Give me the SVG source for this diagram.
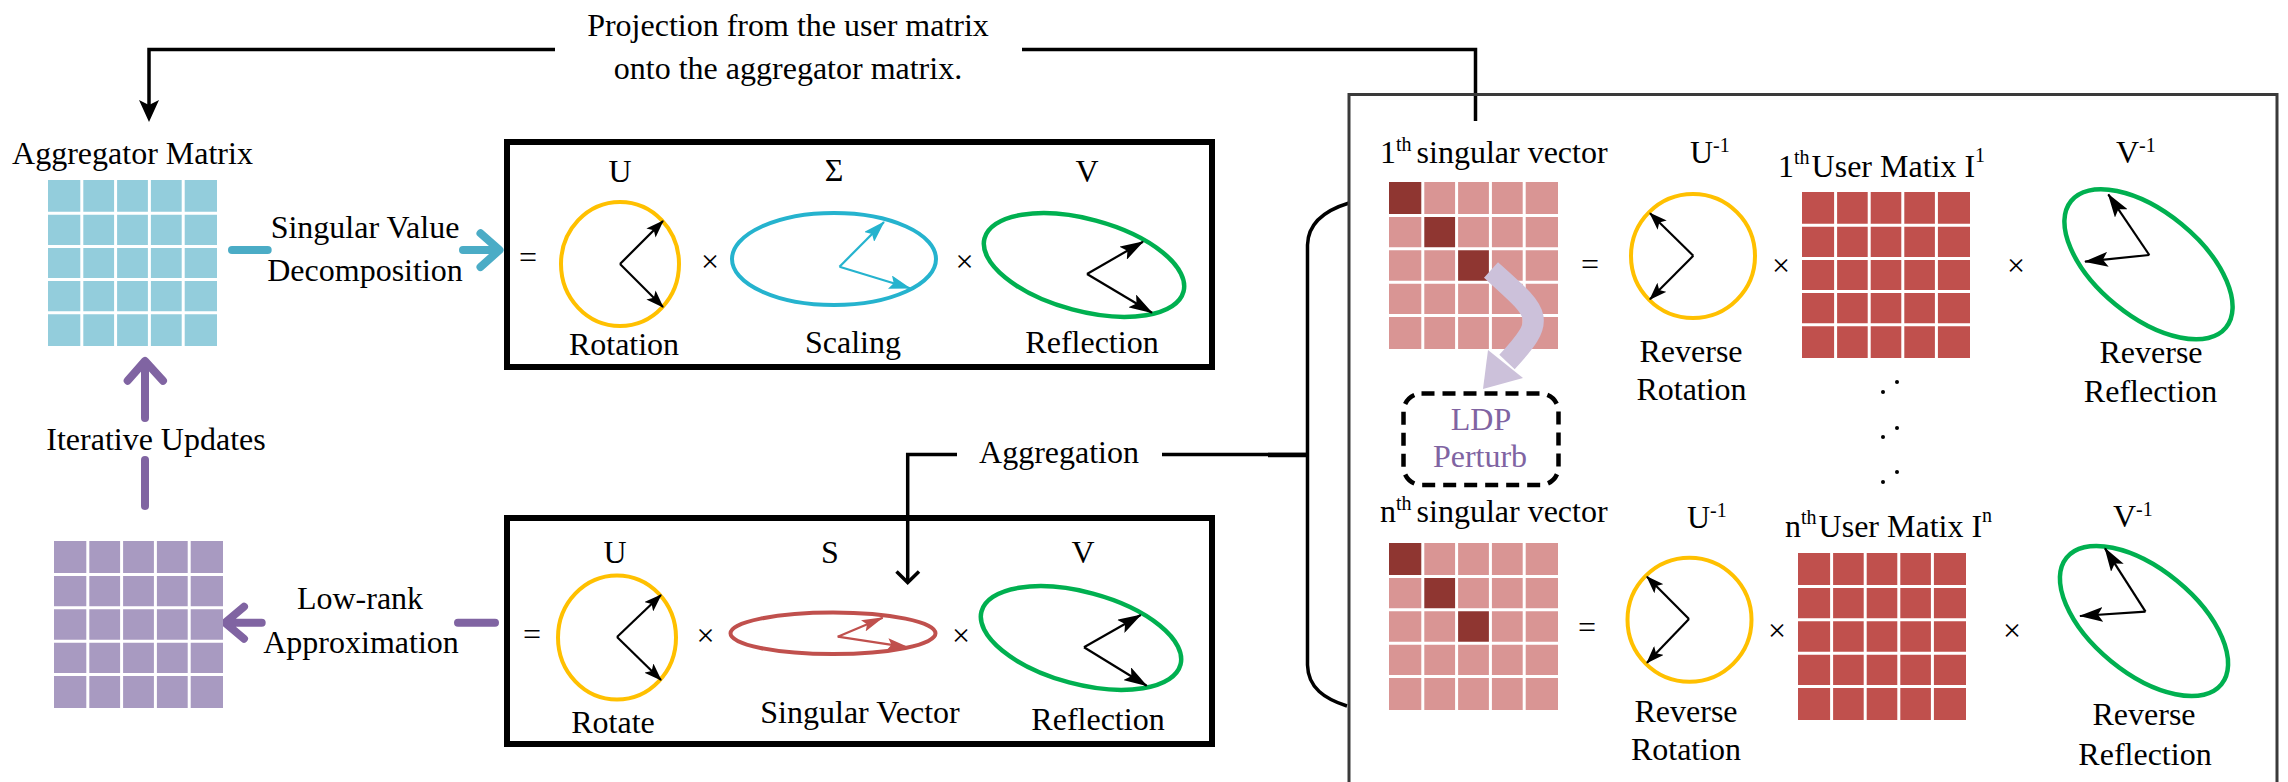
<svg xmlns="http://www.w3.org/2000/svg" width="2288" height="782" viewBox="0 0 2288 782">
<defs>
<style>
.t{font-family:"Liberation Serif","Times New Roman",serif;font-size:32px;fill:#000}
.m{text-anchor:middle}
.s{font-size:20px}
.grid{stroke:#fff;stroke-width:3}
.ar{stroke:#000;stroke-width:2.2;fill:none}
.con{stroke:#000;stroke-width:3.5;fill:none}
.box{fill:none;stroke:#000;stroke-width:6}
</style>
<marker id="hs" markerUnits="userSpaceOnUse" viewBox="0 0 18 13" refX="17" refY="6.5" markerWidth="18" markerHeight="13" orient="auto"><path d="M0,0 L18,6.5 L0,13 L4,6.5 z" fill="#000"/></marker>
<marker id="hl" markerUnits="userSpaceOnUse" viewBox="0 0 24 15" refX="23" refY="7.5" markerWidth="24" markerHeight="15" orient="auto"><path d="M0,0 L24,7.5 L0,15 L5,7.5 z" fill="#000"/></marker>
<marker id="hb" markerUnits="userSpaceOnUse" viewBox="0 0 22 14" refX="21" refY="7" markerWidth="22" markerHeight="14" orient="auto"><path d="M0,0 L22,7 L0,14 L4,7 z" fill="#25B3CE"/></marker>
<marker id="hr" markerUnits="userSpaceOnUse" viewBox="0 0 22 12" refX="21" refY="6" markerWidth="22" markerHeight="12" orient="auto"><path d="M0,0 L22,6 L0,12 L4,6 z" fill="#C0504D"/></marker>
</defs>
<rect width="2288" height="782" fill="#fff"/>

<g id="connectors">
  <path class="con" d="M555 49.5 H149 V106"/>
  <polygon points="149,122 139,100 149,105 159,100" fill="#000"/>
  <path class="con" d="M1022 49.5 H1475.5 V121"/>
  <path class="con" d="M957 454.5 H907.7 V581"/>
  <polyline class="con" points="896.5,571.5 907.7,582.5 919,571.5"/>
  <path class="con" d="M1162 454.5 H1307"/>
  <path class="con" d="M1349 203 C1326 210 1308 222 1307.5 245 V665 C1308 688 1325 699 1347 706"/>
  <path d="M1268 455 H1307" stroke="#000" stroke-width="4.5"/>
  <path d="M232 250 H267.7" stroke="#4BACC6" stroke-width="8" stroke-linecap="round"/>
  <path d="M463 250 H495 M480.5 233.3 L499.5 250 L480.5 267" stroke="#4BACC6" stroke-width="8" stroke-linecap="round" stroke-linejoin="round" fill="none"/>
  <path d="M145 418 V362 M127.7 380.7 L145 361 L163 380.7" stroke="#8064A2" stroke-width="8" stroke-linecap="round" stroke-linejoin="round" fill="none"/>
  <path d="M145 460 V506" stroke="#8064A2" stroke-width="8" stroke-linecap="round"/>
  <path d="M261.7 622.7 H226 M244 606.7 L225 622.7 L244 638.7" stroke="#8064A2" stroke-width="8" stroke-linecap="round" stroke-linejoin="round" fill="none"/>
  <path d="M458 622.7 H495" stroke="#8064A2" stroke-width="8" stroke-linecap="round"/>
</g>

<g id="projection-label">
  <text class="t m" x="788" y="36">Projection from the user matrix</text>
  <text class="t m" x="788" y="79">onto the aggregator matrix.</text>
</g>
<g id="aggregation-label"><text class="t m" x="1059" y="463">Aggregation</text></g>

<g id="aggregator-matrix">
  <text class="t m" x="132.5" y="164">Aggregator Matrix</text>
  <rect x="48" y="180" width="169" height="166" fill="#93CDDC"/>
  <path class="grid" d="M81.8 180V346M115.6 180V346M149.4 180V346M183.2 180V346M48 213.2H217M48 246.4H217M48 279.6H217M48 312.8H217"/>
</g>
<g id="svd-label">
  <text class="t m" x="365" y="238">Singular Value</text>
  <text class="t m" x="365" y="281">Decomposition</text>
</g>
<g id="iterative-label"><text class="t m" x="156" y="450">Iterative Updates</text></g>

<g id="lowrank-matrix">
  <rect x="54" y="541" width="169" height="167" fill="#A89AC1"/>
  <path class="grid" d="M87.8 541V708M121.6 541V708M155.4 541V708M189.2 541V708M54 574.4H223M54 607.8H223M54 641.2H223M54 674.6H223"/>
</g>
<g id="lowrank-label">
  <text class="t m" x="360" y="609">Low-rank</text>
  <text class="t m" x="361" y="653">Approximation</text>
</g>

<g id="svd-box">
  <rect class="box" x="507" y="142" width="705" height="225"/>
  <text class="t m" x="620" y="182">U</text>
  <text class="t m" x="834" y="181">Σ</text>
  <text class="t m" x="1087" y="182">V</text>
  <text class="t m" x="528" y="268">=</text>
  <text class="t m" x="710" y="272">×</text>
  <text class="t m" x="964.5" y="272">×</text>
  <ellipse cx="620" cy="264" rx="59" ry="62" fill="none" stroke="#FFC000" stroke-width="4"/>
  <path class="ar" d="M620 264 L663 307" marker-end="url(#hs)"/>
  <path class="ar" d="M620 264 L663 221" marker-end="url(#hs)"/>
  <ellipse cx="834" cy="259" rx="102" ry="46" fill="none" stroke="#25B3CE" stroke-width="4"/>
  <path d="M839.5 266.7 L884 222" stroke="#25B3CE" stroke-width="2.2" marker-end="url(#hb)"/>
  <path d="M839.5 266.7 L910 288.3" stroke="#25B3CE" stroke-width="2.2" marker-end="url(#hb)"/>
  <ellipse cx="0" cy="0" rx="103" ry="46" transform="translate(1084 265) rotate(15)" fill="none" stroke="#00B050" stroke-width="4.5"/>
  <path class="ar" d="M1087 274 L1143 241.7" marker-end="url(#hl)"/>
  <path class="ar" d="M1087 274 L1152 312.7" marker-end="url(#hl)"/>
  <text class="t m" x="624" y="355">Rotation</text>
  <text class="t m" x="853" y="353">Scaling</text>
  <text class="t m" x="1092" y="353">Reflection</text>
</g>

<g id="lowrank-box">
  <rect class="box" x="507" y="518" width="705" height="226"/>
  <text class="t m" x="615" y="563">U</text>
  <text class="t m" x="830" y="563">S</text>
  <text class="t m" x="1083" y="563">V</text>
  <text class="t m" x="532" y="645">=</text>
  <text class="t m" x="705.5" y="646">×</text>
  <text class="t m" x="961" y="646">×</text>
  <ellipse cx="617" cy="637.5" rx="59" ry="62" fill="none" stroke="#FFC000" stroke-width="4"/>
  <path class="ar" d="M617 637 L661 595" marker-end="url(#hs)"/>
  <path class="ar" d="M617 637 L661 680" marker-end="url(#hs)"/>
  <ellipse cx="833" cy="633.3" rx="102.5" ry="20.7" fill="none" stroke="#C0504D" stroke-width="4"/>
  <path d="M837.7 636.7 L882.7 617.7" stroke="#C0504D" stroke-width="2.2" marker-end="url(#hr)"/>
  <path d="M837.7 636.7 L908.3 647.3" stroke="#C0504D" stroke-width="2.2" marker-end="url(#hr)"/>
  <ellipse cx="0" cy="0" rx="103" ry="46" transform="translate(1081 638) rotate(15)" fill="none" stroke="#00B050" stroke-width="4.5"/>
  <path class="ar" d="M1084 647.3 L1140.7 615" marker-end="url(#hl)"/>
  <path class="ar" d="M1084 647.3 L1146.7 685.7" marker-end="url(#hl)"/>
  <text class="t m" x="613" y="733">Rotate</text>
  <text class="t m" x="860" y="723">Singular Vector</text>
  <text class="t m" x="1098" y="730">Reflection</text>
</g>

<g id="user-panel">
  <path d="M1349 800 V94.5 H2277 V800" fill="none" stroke="#3a3a3a" stroke-width="3"/>
</g>

<g id="singular-vector-1">
  <text class="t" x="1380" y="163">1<tspan class="s" dy="-12">th</tspan><tspan dx="5" dy="12">singular vector</tspan></text>
  <rect x="1389" y="182" width="169" height="167" fill="#D99594"/>
  <rect x="1389" y="182" width="33.8" height="33.4" fill="#8F3631"/>
  <rect x="1422.8" y="215.4" width="33.8" height="33.4" fill="#8F3631"/>
  <rect x="1456.6" y="248.8" width="33.8" height="33.4" fill="#8F3631"/>
  <path class="grid" d="M1422.8 182V349M1456.6 182V349M1490.4 182V349M1524.2 182V349M1389 215.4H1558M1389 248.8H1558M1389 282.2H1558M1389 315.6H1558"/>
</g>

<g id="ldp-arrow">
  <path d="M1491 270 C1540 314 1548 318 1507 362" stroke="#CCC1DA" stroke-width="21" fill="none"/>
  <polygon points="1488,350 1523,378 1483,389" fill="#CCC1DA"/>
</g>

<g id="ldp-perturb">
  <rect x="1403.5" y="393.5" width="155" height="91.5" rx="18" fill="none" stroke="#000" stroke-width="4.5" stroke-dasharray="13 8"/>
  <text class="t m" x="1481" y="430" style="fill:#8064A2">LDP</text>
  <text class="t m" x="1480" y="467" style="fill:#8064A2">Perturb</text>
</g>

<g id="row1-ops">
  <text class="t m" x="1590" y="275">=</text>
  <text class="t" x="1690" y="163">U<tspan class="s" dy="-11">-1</tspan></text>
  <circle cx="1693" cy="256" r="62" fill="none" stroke="#FFC000" stroke-width="4"/>
  <path class="ar" d="M1693.3 255.7 L1650 213.3" marker-end="url(#hs)"/>
  <path class="ar" d="M1693.3 255.7 L1650 299.3" marker-end="url(#hs)"/>
  <text class="t m" x="1691" y="362">Reverse</text>
  <text class="t m" x="1691.5" y="400">Rotation</text>
  <text class="t m" x="1781" y="276">×</text>
  <text class="t m" x="2016" y="276">×</text>
  <text class="t" x="2116" y="163">V<tspan class="s" dy="-11">-1</tspan></text>
  <ellipse cx="0" cy="0" rx="100" ry="52" transform="translate(2148.5 264.3) rotate(39.3)" fill="none" stroke="#00B050" stroke-width="4.5"/>
  <path class="ar" d="M2149.3 255 L2108.3 194.3" marker-end="url(#hl)"/>
  <path class="ar" d="M2149.3 255 L2085 261.7" marker-end="url(#hl)"/>
  <text class="t m" x="2151" y="363">Reverse</text>
  <text class="t m" x="2150.5" y="402">Reflection</text>
</g>

<g id="user-matrix-1">
  <text class="t" x="1778" y="177">1<tspan class="s" dy="-13">th</tspan><tspan dx="2" dy="13">User Matix I</tspan><tspan class="s" dy="-15">1</tspan></text>
  <rect x="1802" y="192" width="168" height="166" fill="#C0504D"/>
  <path class="grid" d="M1835.6 192V358M1869.2 192V358M1902.8 192V358M1936.4 192V358M1802 225.2H1970M1802 258.4H1970M1802 291.6H1970M1802 324.8H1970"/>
</g>

<g id="ellipsis-dots" fill="#000">
  <circle cx="1883" cy="392" r="2"/><circle cx="1897" cy="382" r="2"/>
  <circle cx="1883" cy="437" r="2"/><circle cx="1897" cy="428" r="2"/>
  <circle cx="1883" cy="482" r="2"/><circle cx="1897" cy="472" r="2"/>
</g>

<g id="singular-vector-n">
  <text class="t" x="1380" y="522">n<tspan class="s" dy="-12">th</tspan><tspan dx="5" dy="12">singular vector</tspan></text>
  <rect x="1389" y="543" width="169" height="167" fill="#D99594"/>
  <rect x="1389" y="543" width="33.8" height="33.4" fill="#8F3631"/>
  <rect x="1422.8" y="576.4" width="33.8" height="33.4" fill="#8F3631"/>
  <rect x="1456.6" y="609.8" width="33.8" height="33.4" fill="#8F3631"/>
  <path class="grid" d="M1422.8 543V710M1456.6 543V710M1490.4 543V710M1524.2 543V710M1389 576.4H1558M1389 609.8H1558M1389 643.2H1558M1389 676.6H1558"/>
</g>

<g id="rown-ops">
  <text class="t m" x="1587" y="638">=</text>
  <text class="t" x="1687" y="528">U<tspan class="s" dy="-11">-1</tspan></text>
  <circle cx="1689.5" cy="619.7" r="62" fill="none" stroke="#FFC000" stroke-width="4"/>
  <path class="ar" d="M1689 619 L1647 576.7" marker-end="url(#hs)"/>
  <path class="ar" d="M1689 619 L1647 662.7" marker-end="url(#hs)"/>
  <text class="t m" x="1686" y="722">Reverse</text>
  <text class="t m" x="1686" y="760">Rotation</text>
  <text class="t m" x="1777" y="641">×</text>
  <text class="t m" x="2012" y="641">×</text>
  <text class="t" x="2113" y="527">V<tspan class="s" dy="-11">-1</tspan></text>
  <ellipse cx="0" cy="0" rx="100" ry="52" transform="translate(2144 621) rotate(39.3)" fill="none" stroke="#00B050" stroke-width="4.5"/>
  <path class="ar" d="M2145.5 611.7 L2105 548.3" marker-end="url(#hl)"/>
  <path class="ar" d="M2145.5 611.7 L2080 616" marker-end="url(#hl)"/>
  <text class="t m" x="2144" y="725">Reverse</text>
  <text class="t m" x="2145" y="765">Reflection</text>
</g>

<g id="user-matrix-n">
  <text class="t" x="1785" y="537">n<tspan class="s" dy="-13">th</tspan><tspan dx="2" dy="13">User Matix I</tspan><tspan class="s" dy="-15">n</tspan></text>
  <rect x="1798" y="553" width="168" height="167" fill="#C0504D"/>
  <path class="grid" d="M1831.6 553V720M1865.2 553V720M1898.8 553V720M1932.4 553V720M1798 586.4H1966M1798 619.8H1966M1798 653.2H1966M1798 686.6H1966"/>
</g>
</svg>
